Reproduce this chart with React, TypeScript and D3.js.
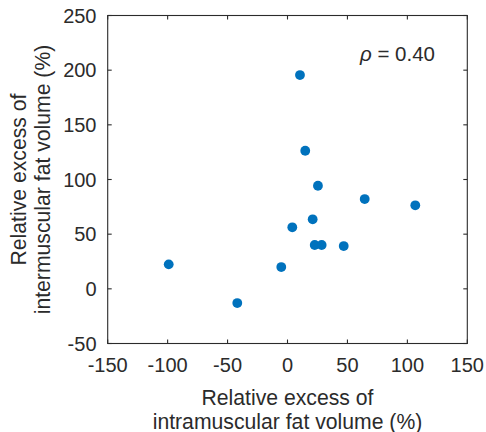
import React from "react";
import * as d3 from "d3";

// Relative excess (%) per subject
const intramuscularExcess = [10.4, 14.8, 25.4, 64.4, 106.6, 21.0, 4.0, 22.7, 28.5, 46.9, -5.2, -99.1, -41.9];
const intermuscularExcess = [195.5, 126.3, 94.3, 82.1, 76.4, 63.6, 56.3, 40.1, 40.1, 39.1, 19.9, 22.4, -13.0];

const xTicks = [-150, -100, -50, 0, 50, 100, 150];
const yTicks = [-50, 0, 50, 100, 150, 200, 250];

const xLabelLines = ["Relative excess of", "intramuscular fat volume (%)"];
const yLabelLines = ["Relative excess of", "intermuscular fat volume (%)"];
const rhoValue = "0.40";

const W = 486;
const H = 432;
const left = 107.7;
const right = 467.3;
const top = 15.5;
const bottom = 343.5;

const FONT = "'Liberation Sans', Arial, Helvetica, sans-serif";
const INK = "#2b2b2b";
const DOT = "#0072BD";
const TICK = 4;

export default function App() {
  const x = d3.scaleLinear().domain([-150, 150]).range([left, right]);
  const y = d3.scaleLinear().domain([-50, 250]).range([bottom, top]);
  const points = d3.zip(intramuscularExcess, intermuscularExcess);
  const cx = (left + right) / 2;
  const cy = (top + bottom) / 2;

  return (
    <div style={{ position: "fixed", left: 0, top: 0 }}>
      <svg width={W} height={H} viewBox={`0 0 ${W} ${H}`} style={{ display: "block", background: "#fff" }}>
        <rect x={0} y={0} width={W} height={H} fill="#fff" />

        {/* data points */}
        {points.map(([a, b], i) => (
          <circle key={i} cx={x(a)} cy={y(b)} r={4.9} fill={DOT} />
        ))}

        {/* axes box */}
        <rect x={left} y={top} width={right - left} height={bottom - top} fill="none" stroke={INK} strokeWidth={1.1} />

        {/* x ticks, bottom and top */}
        {xTicks.map((t) => (
          <g key={"x" + t}>
            <line x1={x(t)} x2={x(t)} y1={bottom} y2={bottom - TICK} stroke={INK} strokeWidth={1.1} />
            <line x1={x(t)} x2={x(t)} y1={top} y2={top + TICK} stroke={INK} strokeWidth={1.1} />
            <text x={x(t)} y={372} textAnchor="middle" fontFamily={FONT} fontSize={20} fill={INK}>
              {t}
            </text>
          </g>
        ))}

        {/* y ticks, left and right */}
        {yTicks.map((t) => (
          <g key={"y" + t}>
            <line x1={left} x2={left + TICK} y1={y(t)} y2={y(t)} stroke={INK} strokeWidth={1.1} />
            <line x1={right} x2={right - TICK} y1={y(t)} y2={y(t)} stroke={INK} strokeWidth={1.1} />
            <text x={96.5} y={y(t) + 7} textAnchor="end" fontFamily={FONT} fontSize={20} fill={INK}>
              {t}
            </text>
          </g>
        ))}

        {/* x axis label */}
        {xLabelLines.map((s, i) => (
          <text key={s} x={cx} y={404.5 + i * 24} textAnchor="middle" fontFamily={FONT} fontSize={21.2} fill={INK}>
            {s}
          </text>
        ))}

        {/* y axis label */}
        {yLabelLines.map((s, i) => (
          <text
            key={s}
            transform={`translate(${25.5 + i * 24}, ${cy}) rotate(-90)`}
            textAnchor="middle"
            fontFamily={FONT}
            fontSize={21.2}
            fill={INK}
          >
            {s}
          </text>
        ))}

        {/* correlation annotation */}
        <text x={360} y={60.5} fontFamily={FONT} fontSize={20.5} fill={INK}>
          <tspan fontStyle="italic">ρ</tspan>
          <tspan>{" = " + rhoValue}</tspan>
        </text>
      </svg>
    </div>
  );
}
